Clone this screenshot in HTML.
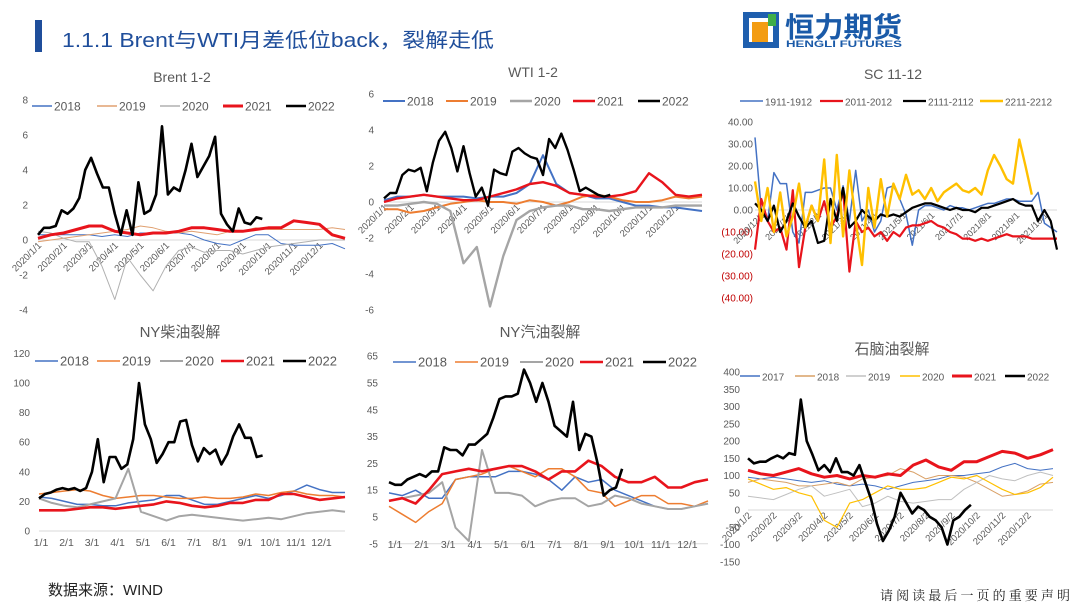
<!DOCTYPE html>
<html><head><meta charset="utf-8"><style>
body{margin:0;background:#fff}
svg{display:block;font-family:"Liberation Sans","Noto Sans CJK SC",sans-serif}
</style></head><body>
<svg id="page" width="1080" height="608" viewBox="0 0 1080 608" xmlns="http://www.w3.org/2000/svg">
<rect width="1080" height="608" fill="#fff"/>
<rect x="35" y="20" width="7" height="32" fill="#1f4e9b"/>
<text x="62" y="47" font-size="20" fill="#1f4e9b" textLength="432" lengthAdjust="spacingAndGlyphs" font-family="Liberation Sans,Noto Sans CJK SC,sans-serif">1.1.1 Brent与WTI月差低位back，裂解走低</text>
<g>
<rect x="743" y="12" width="36" height="36" fill="#1f5fae"/>
<rect x="749" y="18" width="24" height="24" fill="#fff"/>
<rect x="752" y="22" width="16" height="20" fill="#f39c12"/>
<rect x="768" y="14" width="8" height="12" fill="#3fae49"/>
<text x="785" y="37" font-size="28" font-weight="bold" fill="#1a5aa8" textLength="117" lengthAdjust="spacingAndGlyphs">恒力期货</text>
<text x="786" y="47" font-size="9.5" font-weight="bold" fill="#1a5aa8" textLength="116" lengthAdjust="spacingAndGlyphs">HENGLI FUTURES</text>
</g>
<text x="48" y="595" font-size="15" fill="#222">数据来源：WIND</text>
<text x="880" y="600" font-size="13" fill="#222" textLength="190" font-family="Liberation Serif,Noto Serif CJK SC,serif">请阅读最后一页的重要声明</text>
</svg>
<script>
// ---------- data ----------
const months20 = ["2020/1/1","2020/2/1","2020/3/1","2020/4/1","2020/5/1","2020/6/1","2020/7/1","2020/8/1","2020/9/1","2020/10/1","2020/11/1","2020/12/1"];
const monthsShort = ["1/1","2/1","3/1","4/1","5/1","6/1","7/1","8/1","9/1","10/1","11/1","12/1"];
const monthsSC = ["2020/12/1","2021/1/1","2021/2/1","2021/3/1","2021/4/1","2021/5/1","2021/6/1","2021/7/1","2021/8/1","2021/9/1","2021/10/1"];
const monthsNap = ["2020/1/2","2020/2/2","2020/3/2","2020/4/2","2020/5/2","2020/6/2","2020/7/2","2020/8/2","2020/9/2","2020/10/2","2020/11/2","2020/12/2"];

const brentTicks = [8,6,4,2,0,-2,-4];
const brent2018 = [0.3,0.3,0.3,0.3,0.3,0.2,0.3,0.2,0.4,0.4,0.4,0.4,0.3,0.0,-0.2,-0.3,0.0,0.3,0.3,-0.2,-0.3,-0.3,-0.3,-0.2,-0.5];
const brent2019 = [-0.1,0.0,0.1,0.2,0.3,0.4,0.5,0.6,0.8,0.7,0.5,0.4,0.5,0.4,0.3,0.5,0.5,0.7,0.6,0.6,0.6,0.6,0.6,0.7,0.6];
const brent2020 = [0.5,0.4,0.1,-0.1,-0.1,-1.5,-3.4,-1.0,-2.0,-2.9,-1.5,-0.6,-0.4,-0.7,-0.6,-0.6,-0.8,-0.6,-0.4,-0.3,-0.2,-0.1,0.0,0.0,0.0];
const brent2021 = [0.1,0.3,0.4,0.6,0.8,0.8,0.5,0.4,0.3,0.4,0.4,0.5,0.7,0.7,0.6,0.5,0.5,0.6,0.7,0.7,1.1,1.0,0.9,0.3,0.1];
const brent2022 = [0.3,0.7,0.7,0.8,1.7,1.5,1.8,2.4,4.0,4.7,3.8,3.0,3.0,1.5,0.3,1.7,0.3,3.3,1.5,1.7,2.6,6.5,2.6,3.0,2.8,4.0,5.5,3.6,4.2,4.8,5.9,1.5,0.9,0.5,1.8,1.0,0.9,1.3,1.2];

const wtiTicks = [6,4,2,0,-2,-4,-6];
const wti2018 = [0.1,0.3,0.3,0.4,0.3,0.3,0.3,0.2,0.3,0.3,0.5,1.0,2.6,1.0,0.5,0.4,0.2,0.2,0.0,-0.2,-0.2,-0.3,-0.3,-0.4,-0.5];
const wti2019 = [-0.4,-0.4,-0.6,-0.5,-0.3,-0.1,0.0,0.1,0.0,0.0,-0.1,0.1,0.0,-0.2,0.0,0.3,0.4,0.3,0.1,0.0,0.0,0.1,0.3,0.2,0.3];
const wti2020 = [-0.2,-0.2,-0.1,0.0,-0.1,-0.5,-3.4,-2.5,-5.8,-3.0,-1.0,-0.5,-0.3,-0.2,-0.2,-0.4,-0.4,-0.5,-0.4,-0.3,-0.3,-0.3,-0.2,-0.2,-0.2];
const wti2021 = [0.0,0.2,0.3,0.4,0.3,0.2,0.1,0.1,0.3,0.5,0.7,1.0,1.1,0.9,0.5,0.4,0.3,0.3,0.4,0.6,1.6,1.1,0.4,0.3,0.4];
const wti2022 = [0.2,0.5,0.5,1.5,1.8,1.7,1.9,0.6,2.2,3.4,3.9,3.0,1.7,3.1,1.6,0.3,0.8,-0.2,1.8,1.6,1.5,2.8,3.0,2.7,2.5,2.4,1.5,3.5,3.0,3.8,2.9,1.8,0.6,0.8,0.6,0.4,0.3,0.4];

const scTicks = [40,30,20,10,0,-10,-20,-30,-40];
const scTickLabels = ["40.00","30.00","20.00","10.00","0.00","(10.00)","(20.00)","(30.00)","(40.00)"];
const sc1911 = [33,0,-5,17,12,12,-10,-15,8,8,9,10,10,0,11,-5,18,-5,0,-10,-5,10,11,5,-2,-16,0,2,2,1,0,2,1,1,0,1,2,3,3,4,5,5,4,4,4,8,-6,-8,-10];
const sc2011 = [-18,5,-5,-10,-8,-18,9,-26,-8,2,-5,4,-8,-3,9,-28,-5,-10,-8,-12,-10,-14,-10,-12,-8,-7,-7,-6,-5,-7,-8,-10,-11,-13,-13,-14,-13,-14,-13,-12,-11,-12,-12,-12,-13,-13,-13,-13,-13];
const sc2111 = [3,0,-5,2,-10,-5,3,-3,-8,-5,-15,-14,5,-5,10,-8,-5,0,-3,-5,-2,-3,-2,-3,-1,1,2,3,3,2,1,0,1,0,0,-1,1,1,2,3,4,5,3,2,2,-5,0,-5,-18];
const sc2211 = [13,-5,10,-10,8,-12,-3,12,-8,2,-5,23,-15,25,-12,18,-5,-25,10,-8,14,-3,12,5,16,7,9,5,10,4,8,10,12,9,8,10,7,18,25,20,14,12,32,20,7];

const dslTicks = [120,100,80,60,40,20,0];
const dsl2018 = [23,22,20,18,18,17,17,19,20,21,24,24,21,18,18,20,22,24,22,24,27,31,28,26,26];
const dsl2019 = [25,26,27,28,27,24,22,23,24,24,23,22,22,23,22,22,23,25,24,26,27,25,24,24,23];
const dsl2020 = [22,19,17,16,18,20,22,42,13,10,7,10,11,10,9,8,7,8,9,8,10,12,13,14,13];
const dsl2021 = [14,14,14,15,16,16,15,16,17,18,20,19,17,16,17,19,19,21,21,25,25,23,21,22,23];
const dsl2022 = [22,25,26,28,29,28,29,27,29,40,62,33,50,50,42,45,62,100,72,62,46,52,60,60,74,75,58,47,56,52,55,45,52,64,72,63,63,50,51];

const gasTicks = [65,55,45,35,25,15,5,-5];
const gas2018 = [14,13,15,12,12,19,20,20,20,22,22,21,19,15,20,18,19,15,13,11,9,8,8,9,10];
const gas2019 = [9,6,3,7,10,19,20,21,23,24,22,20,23,23,20,15,14,9,11,13,13,10,10,9,11];
const gas2020 = [11,12,13,14,18,1,-4,30,14,14,13,9,11,12,12,9,10,13,12,10,9,8,8,9,10];
const gas2021 = [11,12,10,15,21,22,23,22,23,24,24,22,19,22,22,26,24,20,18,18,20,16,16,18,19];
const gas2022 = [18,17,17,19,20,21,20,22,22,31,30,30,28,32,32,34,36,42,49,50,50,51,60,55,48,55,48,39,37,35,48,30,36,35,25,13,15,16,23];

const napTicks = [400,350,300,250,200,150,100,50,0,-50,-100,-150];
const nap2017 = [95,90,95,90,85,80,85,75,70,75,70,60,70,80,85,90,100,100,105,110,125,135,120,115,120];
const nap2018 = [80,90,85,80,70,70,75,80,70,90,95,100,120,110,90,100,100,95,80,60,40,45,55,75,80];
const nap2019 = [40,35,30,45,60,70,40,50,60,10,20,40,25,20,25,30,30,60,80,100,90,85,100,110,100];
const nap2020 = [90,75,60,65,50,40,-30,-50,20,30,50,70,60,60,65,80,95,90,100,80,60,45,50,65,95];
const nap2021 = [115,105,100,110,120,105,95,100,90,100,95,105,100,130,145,125,115,140,140,155,170,165,150,160,175];
const nap2022 = [150,135,140,140,150,158,150,165,160,320,200,160,115,130,110,150,110,110,100,130,80,30,-40,-90,-60,-20,50,20,-10,10,0,-20,-30,-50,-100,-30,-20,0,15];

// ---------- rendering ----------
const NS = "http://www.w3.org/2000/svg";
const svg = document.getElementById('page');
function mk(tag, attrs, parent){const e=document.createElementNS(NS,tag);for(const k in attrs)e.setAttribute(k,attrs[k]);(parent||svg).appendChild(e);return e;}
const SEMI = 365/24, WEEK = 365/52;

function drawChart(c){
  const g = mk('g',{});
  
  
  const sx = d => c.x0 + (d - c.d0)/(c.d1 - c.d0)*(c.x1 - c.x0);
  const sy = v => c.ya + (v - c.va)*(c.yb - c.ya)/(c.vb - c.va);
  const t = mk('text',{x:c.tx,y:c.ty,'text-anchor':'middle','font-size':c.tfs||14,fill:'#595959'},g);
  t.textContent = c.title;
  
  
  c.ticks.forEach((v,i)=>{
    const lb = mk('text',{x:c.ylx,y:sy(v)+3.5,'text-anchor':'end','font-size':c.yfs||10,fill:(c.negRed&&v<0)?'#c00000':'#595959'},g);
    lb.textContent = c.tickLabels ? c.tickLabels[i] : String(v);
    
    
  });
  const ay = sy(c.axisV);
  const ax = mk('line',{x1:c.x0,x2:c.x1,y1:ay,y2:ay,stroke:'#d9d9d9','stroke-width':1},g);
  
  
  c.xlabels.forEach((s,i)=>{
    const d = c.xlabelPos(i);
    let lb;
    if(c.rot){
      const px = sx(d)+4, py = ay+6;
      lb = mk('text',{x:px,y:py,'text-anchor':'end','font-size':c.xfs||9.5,fill:'#595959',transform:`rotate(-45 ${px} ${py})`},g);
    } else {
      lb = mk('text',{x:sx(d)+c.xlOff,y:c.xly,'text-anchor':'middle','font-size':c.xfs||10.5,fill:'#595959'},g);
    }
    lb.textContent = s;
    
    
  });
  c.series.forEach(s=>{
    const pts = s.data.map((v,i)=>sx(i*s.step).toFixed(1)+','+sy(v).toFixed(1)).join(' ');
    const pl = mk('polyline',{points:pts,fill:'none',stroke:s.color,'stroke-width':s.w,'stroke-linejoin':'round'},g);
    
    
  });
  c.series.forEach((s,i)=>{
    const lx = c.legX[i];
    const ln = mk('line',{x1:lx,x2:lx+c.legLen,y1:c.legY,y2:c.legY,stroke:s.color,'stroke-width':Math.max(s.w,1.5)},g);
    
    
    const lt = mk('text',{x:lx+c.legLen+2,y:c.legY+4.5,'font-size':c.lfs||12,fill:'#595959'},g);
    lt.textContent = s.label;
    
    
  });
}

const monthPos = i => i*365/12;

drawChart({name:'brent-chart',title:'Brent 1-2',tx:182,ty:82,x0:38,x1:345,d0:0,d1:365,ya:240,va:0,yb:100,vb:8,
  ticks:brentTicks,ylx:28,axisV:0,xlabels:months20,xlabelPos:monthPos,rot:true,
  legY:106,legLen:20,legX:[32,97,160,223,286],lfs:12,
  series:[{label:'2018',data:brent2018,step:SEMI,color:'#4472c4',w:1},
          {label:'2019',data:brent2019,step:SEMI,color:'#e0a070',w:1},
          {label:'2020',data:brent2020,step:SEMI,color:'#b0b0b0',w:1},
          {label:'2021',data:brent2021,step:SEMI,color:'#e8141c',w:3},
          {label:'2022',data:brent2022,step:WEEK,color:'#000',w:2.6}]});

drawChart({name:'wti-chart',title:'WTI 1-2',tx:533,ty:77,x0:384,x1:702,d0:0,d1:365,ya:202,va:0,yb:130,vb:4,
  ticks:wtiTicks,ylx:374,axisV:0,xlabels:months20,xlabelPos:monthPos,rot:true,
  legY:101,legLen:22,legX:[383,446,510,573,638],lfs:12,
  series:[{label:'2018',data:wti2018,step:SEMI,color:'#4472c4',w:2},
          {label:'2019',data:wti2019,step:SEMI,color:'#ed7d31',w:2},
          {label:'2020',data:wti2020,step:SEMI,color:'#a5a5a5',w:2.4},
          {label:'2021',data:wti2021,step:SEMI,color:'#e8141c',w:2.4},
          {label:'2022',data:wti2022,step:WEEK,color:'#000',w:2.4}]});

drawChart({name:'sc-chart',title:'SC 11-12',tx:893,ty:79,x0:755,x1:1057,d0:0,d1:48,ya:210,va:0,yb:188,vb:10,
  ticks:scTicks,tickLabels:scTickLabels,negRed:true,ylx:753,axisV:0,xlabels:monthsSC,xlabelPos:i=>1+i*4.5,rot:true,xfs:9,
  legY:101,legLen:23,legX:[740,820,903,980],lfs:10,
  series:[{label:'1911-1912',data:sc1911,step:1,color:'#4472c4',w:1.5},
          {label:'2011-2012',data:sc2011,step:1,color:'#e8141c',w:2.2},
          {label:'2111-2112',data:sc2111,step:1,color:'#000',w:2.2},
          {label:'2211-2212',data:sc2211,step:1,color:'#ffc000',w:2.4}]});

drawChart({name:'ny-diesel-chart',title:'NY柴油裂解',tx:180,ty:337,tfs:15,x0:39,x1:345,d0:0,d1:365,ya:531,va:0,yb:383,vb:100,
  ticks:dslTicks,ylx:30,axisV:0,xlabels:monthsShort,xlabelPos:monthPos,xly:546,xlOff:2,
  legY:361,legLen:23,legX:[35,97,160,221,283],lfs:13,
  series:[{label:'2018',data:dsl2018,step:SEMI,color:'#4472c4',w:1.5},
          {label:'2019',data:dsl2019,step:SEMI,color:'#ed7d31',w:1.5},
          {label:'2020',data:dsl2020,step:SEMI,color:'#a5a5a5',w:2},
          {label:'2021',data:dsl2021,step:SEMI,color:'#e8141c',w:2.6},
          {label:'2022',data:dsl2022,step:WEEK,color:'#000',w:2.6}]});

drawChart({name:'ny-gasoline-chart',title:'NY汽油裂解',tx:540,ty:337,tfs:15,x0:389,x1:708,d0:0,d1:365,ya:517,va:5,yb:383,vb:55,
  ticks:gasTicks,ylx:378,axisV:-5,xlabels:monthsShort,xlabelPos:monthPos,xly:548,xlOff:6,
  legY:362,legLen:23,legX:[393,455,520,580,643],lfs:13,
  series:[{label:'2018',data:gas2018,step:SEMI,color:'#4472c4',w:1.5},
          {label:'2019',data:gas2019,step:SEMI,color:'#ed7d31',w:1.5},
          {label:'2020',data:gas2020,step:SEMI,color:'#a5a5a5',w:2},
          {label:'2021',data:gas2021,step:SEMI,color:'#e8141c',w:2.6},
          {label:'2022',data:gas2022,step:WEEK,color:'#000',w:2.6}]});

drawChart({name:'naphtha-chart',title:'石脑油裂解',tx:892,ty:354,tfs:15,x0:748,x1:1053,d0:0,d1:365,ya:510,va:0,yb:441,vb:200,
  ticks:napTicks,ylx:740,axisV:0,xlabels:monthsNap,xlabelPos:monthPos,rot:true,xfs:9.5,
  legY:376,legLen:20,legX:[740,795,846,900,952,1005],lfs:10,
  series:[{label:'2017',data:nap2017,step:SEMI,color:'#4472c4',w:1},
          {label:'2018',data:nap2018,step:SEMI,color:'#d9a066',w:1},
          {label:'2019',data:nap2019,step:SEMI,color:'#c0c0c0',w:1},
          {label:'2020',data:nap2020,step:SEMI,color:'#ffc000',w:1.2},
          {label:'2021',data:nap2021,step:SEMI,color:'#e8141c',w:3},
          {label:'2022',data:nap2022,step:WEEK,color:'#000',w:2.6}]});
</script>
</body></html>
